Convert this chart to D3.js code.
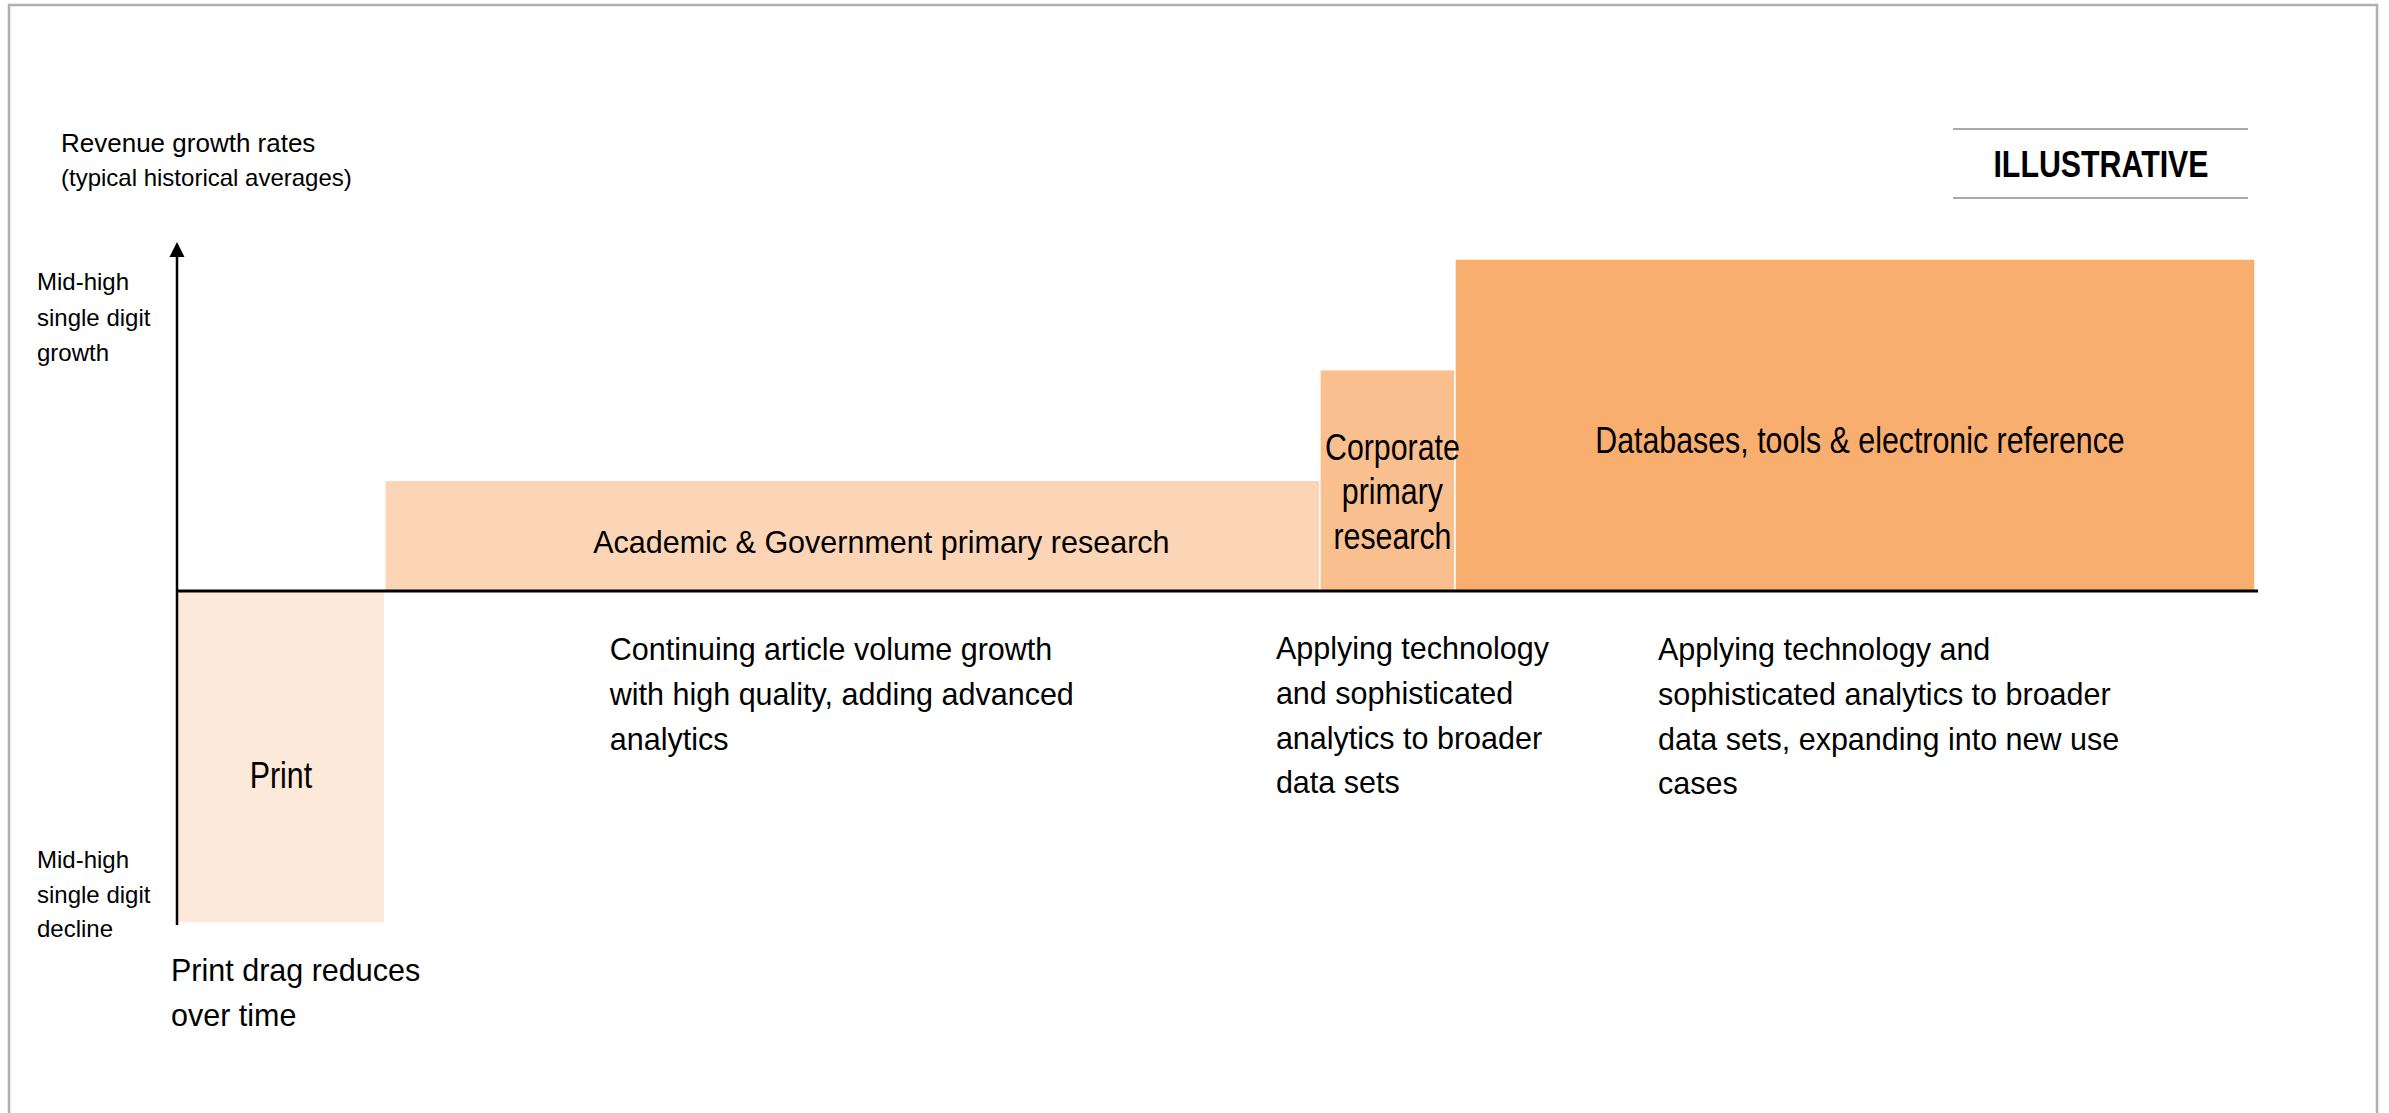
<!DOCTYPE html>
<html>
<head>
<meta charset="utf-8">
<script src="https://cdn.jsdelivr.net/npm/d3@7"></script>
<style>
  body { margin: 0; background: #fff; }
  text { font-family: "Liberation Sans", Arial, sans-serif; fill: #000; }
</style>
</head>
<body>
<div id="chart"></div>
<script>
// segments of the market, their revenue share (bar width) and growth (bar height)
var segments = ["Print", "Academic & Government primary research", "Corporate primary research", "Databases, tools & electronic reference"];
var revenueShare = [10, 45, 6.5, 38.5];
var growthRate = [-6, 2, 4, 6];

// how the labels inside the bars break
var segmentLines = [
  ["Print"],
  ["Academic & Government primary research"],
  ["Corporate", "primary", "research"],
  ["Databases, tools & electronic reference"]
];

// notes under each bar
var notes = [
  ["Print drag reduces", "over time"],
  ["Continuing article volume growth", "with high quality, adding advanced", "analytics"],
  ["Applying technology", "and sophisticated", "analytics to broader", "data sets"],
  ["Applying technology and", "sophisticated analytics to broader", "data sets, expanding into new use", "cases"]
];

var axisTitle = ["Revenue growth rates", "(typical historical averages)"];
var growthLabel = ["Mid-high", "single digit", "growth"];
var declineLabel = ["Mid-high", "single digit", "decline"];
var stamp = "ILLUSTRATIVE";

var barColors = ["#FDE9D9", "#FBD5B5", "#F9BF8F", "#F8AE6F"];

var width = 2389;
var height = 1113;

var svg = d3
  .select("#chart")
  .append("svg")
  .attr("width", width)
  .attr("height", height);

// page frame
svg.append("rect")
  .attr("x", 9)
  .attr("y", 5)
  .attr("width", 2368)
  .attr("height", 1200)
  .attr("fill", "none")
  .attr("stroke", "#b0b0b0")
  .attr("stroke-width", 2.5);

var xScale = d3.scaleLinear().domain([0, 100]).range([177, 2255]);
var yScale = d3.scaleLinear().domain([-6, 6]).range([923, 259]);

// cumulative starts for the variable-width bars
var starts = [];
var acc = 0;
revenueShare.forEach(function(s) {
  starts.push(acc);
  acc += s;
});

var data = segments.map(function(name, i) {
  return {
    name: name,
    x0: starts[i],
    x1: starts[i] + revenueShare[i],
    growth: growthRate[i],
    lines: segmentLines[i],
    note: notes[i],
    color: barColors[i]
  };
});

svg.selectAll("rect.bar")
  .data(data)
  .enter()
  .append("rect")
  .attr("class", "bar")
  .attr("x", function(d) { return xScale(d.x0); })
  .attr("width", function(d) { return xScale(d.x1) - xScale(d.x0); })
  .attr("y", function(d) { return Math.min(yScale(d.growth), yScale(0)); })
  .attr("height", function(d) { return Math.abs(yScale(d.growth) - yScale(0)); })
  .attr("fill", function(d) { return d.color; })
  .attr("stroke", "#fff")
  .attr("stroke-width", 1.5);

// axes
var y0 = yScale(0);
var yTop = yScale(6) - 17;

svg.append("line")
  .attr("x1", xScale(0))
  .attr("x2", xScale(0))
  .attr("y1", yScale(-6) + 2)
  .attr("y2", yTop + 10)
  .attr("stroke", "#000")
  .attr("stroke-width", 2.5);

svg.append("path")
  .attr("d", "M" + xScale(0) + "," + yTop + " L" + (xScale(0) - 7.5) + "," + (yTop + 15) + " L" + (xScale(0) + 7.5) + "," + (yTop + 15) + "Z")
  .attr("fill", "#000");

svg.append("line")
  .attr("x1", xScale(0) - 1)
  .attr("x2", xScale(100) + 3)
  .attr("y1", y0)
  .attr("y2", y0)
  .attr("stroke", "#000")
  .attr("stroke-width", 3);

// multi line text helper
function addLines(g, lines, x, y, lh, size, anchor) {
  var t = g.append("text")
    .attr("font-size", size)
    .attr("text-anchor", anchor || "start");
  lines.forEach(function(l, i) {
    t.append("tspan")
      .attr("x", x)
      .attr("y", y + i * lh)
      .text(l);
  });
  return t;
}

// axis title
svg.append("text").attr("x", 61).attr("y", 152).attr("font-size", 26).text(axisTitle[0]);
svg.append("text").attr("x", 61).attr("y", 186).attr("font-size", 24).text(axisTitle[1]);

addLines(svg, growthLabel, 37, yScale(6) + 31, 35.5, 24);
addLines(svg, declineLabel, 37, yScale(-6) - 55, 34.5, 24);

// labels inside bars (condensed type)
var labelPos = [
  { dx: 0, y: 788, squeeze: 0.82, size: 37 },
  { dx: 29, y: 553, squeeze: 1, size: 30.5 },
  { dx: 5, y: 460, squeeze: 0.82, size: 37 },
  { dx: 5, y: 453, squeeze: 0.82, size: 37 }
];

data.forEach(function(d, i) {
  var p = labelPos[i];
  var cx = (xScale(d.x0) + xScale(d.x1)) / 2 + p.dx;
  var g = svg.append("g")
    .attr("transform", "translate(" + cx + "," + p.y + ") scale(" + p.squeeze + ",1)");
  addLines(g, d.lines, 0, 0, 44.5, p.size, "middle");
});

// notes under the bars
var notePos = [
  { dx: -6, y: 981 },
  { dx: 225, y: 660 },
  { dx: -44, y: 659 },
  { dx: 203, y: 660 }
];

data.forEach(function(d, i) {
  addLines(svg, d.note, xScale(d.x0) + notePos[i].dx, notePos[i].y, 44.8, 30.5);
});

// illustrative stamp
svg.append("line").attr("x1", 1953).attr("x2", 2248).attr("y1", 129).attr("y2", 129)
  .attr("stroke", "#aaa").attr("stroke-width", 2);
svg.append("line").attr("x1", 1953).attr("x2", 2248).attr("y1", 198).attr("y2", 198)
  .attr("stroke", "#aaa").attr("stroke-width", 2);
svg.append("g")
  .attr("transform", "translate(2101,177) scale(0.82,1)")
  .append("text")
  .attr("text-anchor", "middle")
  .attr("font-size", 37)
  .attr("font-weight", "bold")
  .text(stamp);
</script>
</body>
</html>
